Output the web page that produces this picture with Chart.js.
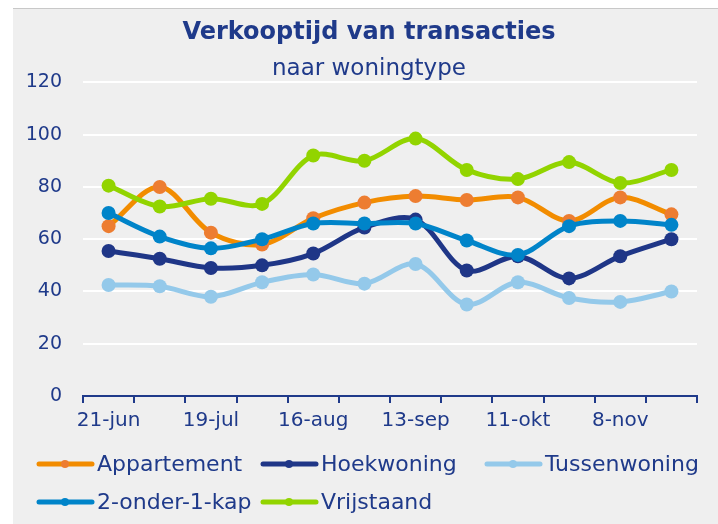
<!DOCTYPE html>
<html>
<head>
<meta charset="utf-8">
<script src="https://cdn.jsdelivr.net/npm/chart.js@4"></script>
<style>
  html, body { margin: 0; padding: 0; background: #fff; }
  #wrap {
    position: absolute; left: 13px; top: 8px;
    width: 705px; height: 516px;
    background: #efefef; border-top: 1px solid #c8c8c8;
  }
</style>
</head>
<body>
<div id="wrap"><canvas id="chart" width="705" height="516"></canvas></div>
<script>
const weeks = ['21-jun', '5-jul', '19-jul', '2-aug', '16-aug', '30-aug', '13-sep', '27-sep', '11-okt', '25-okt', '8-nov', '22-nov'];

const appartement  = [65, 80, 62.5, 58, 68, 74, 76.5, 75, 76, 67, 76, 69.5];
const hoekwoning   = [55.5, 52.5, 49, 50, 54.5, 64.5, 67.5, 48, 53.5, 45, 53.5, 60];
const tussenwoning = [42.5, 42, 38, 43.5, 46.5, 43, 50.5, 35, 43.5, 37.5, 36, 40];
const tweeOnderEen = [70, 61, 56.5, 60, 66, 66, 66, 59.5, 54, 65, 67, 65.5];
const vrijstaand   = [80.5, 72.5, 75.5, 73.5, 92, 90, 98.5, 86.5, 83, 89.5, 81.5, 86.5];

const navy = '#1f3a8a';
const font = "'DejaVu Sans', sans-serif";

function series(label, data, line, marker, i) {
    return {
        label: label,
        data: data,
        borderColor: line,
        backgroundColor: marker,
        pointBackgroundColor: marker,
        pointBorderColor: marker,
        borderWidth: 5,
        pointRadius: 7,
        pointBorderWidth: 0,
        tension: 0.33, // close to Excel's smoothed line
        order: 5 - i // later series on top, like the original
    };
}

// legend drawn in fixed columns (3 per row)
const gridLegend = {
    id: 'gridLegend',
    afterDraw(chart) {
        const ctx = chart.ctx;
        const base = chart.chartArea.bottom;
        ctx.save();
        ctx.font = "22px " + font;
        ctx.textBaseline = 'middle';
        chart.data.datasets.forEach((ds, i) => {
            const x = 24 + (i % 3) * 224;
            const y = base + 68 + Math.floor(i / 3) * 38;
            ctx.strokeStyle = ds.borderColor;
            ctx.lineWidth = 5;
            ctx.lineCap = 'round';
            ctx.beginPath();
            ctx.moveTo(x + 2, y);
            ctx.lineTo(x + 55, y);
            ctx.stroke();
            ctx.fillStyle = ds.pointBackgroundColor;
            ctx.beginPath();
            ctx.arc(x + 28, y, 4, 0, Math.PI * 2);
            ctx.fill();
            ctx.fillStyle = navy;
            ctx.fillText(ds.label, x + 60, y + 1);
        });
        ctx.restore();
    }
};

new Chart(document.getElementById('chart'), {
    type: 'line',
    data: {
        labels: weeks,
        datasets: [
            series('Appartement', appartement, '#f28c00', '#ed7d31', 0),
            series('Hoekwoning', hoekwoning, '#1f3687', '#1f3687', 1),
            series('Tussenwoning', tussenwoning, '#94c9ea', '#94c9ea', 2),
            series('2-onder-1-kap', tweeOnderEen, '#0084c9', '#0084c9', 3),
            series('Vrijstaand', vrijstaand, '#92d400', '#92d400', 4)
        ]
    },
    options: {
        responsive: false,
        animation: false,
        layout: { padding: { left: 14, right: 7, top: 0, bottom: 91 } },
        scales: {
            x: {
                offset: true,
                grid: {
                    offset: true,
                    drawOnChartArea: false,
                    drawTicks: true,
                    tickLength: 7,
                    color: navy,
                    lineWidth: 2
                },
                border: { display: true, color: navy, width: 2 },
                ticks: {
                    autoSkip: false,
                    maxRotation: 0,
                    padding: 6,
                    color: navy,
                    font: { family: font, size: 20 },
                    callback: function(v, i) { return i % 2 === 0 ? this.getLabelForValue(v) : ''; }
                },
                afterFit: s => { s.height = 38; }
            },
            y: {
                min: 0,
                max: 120,
                ticks: {
                    stepSize: 20,
                    padding: 21,
                    color: navy,
                    font: { family: font, size: 19 }
                },
                grid: {
                    drawTicks: false,
                    lineWidth: 2,
                    color: c => c.tick && c.tick.value === 0 ? 'rgba(0,0,0,0)' : '#ffffff'
                },
                border: { display: false },
                afterFit: s => { s.width = 56; }
            },
            // empty spacer on the right so the titles centre like the original
            spacer: {
                type: 'linear',
                position: 'right',
                grid: { display: false },
                ticks: { display: false },
                border: { display: false },
                afterFit: s => { s.width = 14; }
            }
        },
        plugins: {
            legend: { display: false },
            tooltip: { enabled: false },
            title: {
                display: true,
                text: 'Verkooptijd van transacties',
                color: navy,
                font: { family: font, size: 24, weight: 'bold' },
                padding: { top: 9, bottom: 0 }
            },
            subtitle: {
                display: true,
                text: 'naar woningtype',
                color: navy,
                font: { family: font, size: 23 },
                padding: { top: 8, bottom: 0 }
            }
        }
    },
    plugins: [gridLegend]
});
</script>
</body>
</html>
